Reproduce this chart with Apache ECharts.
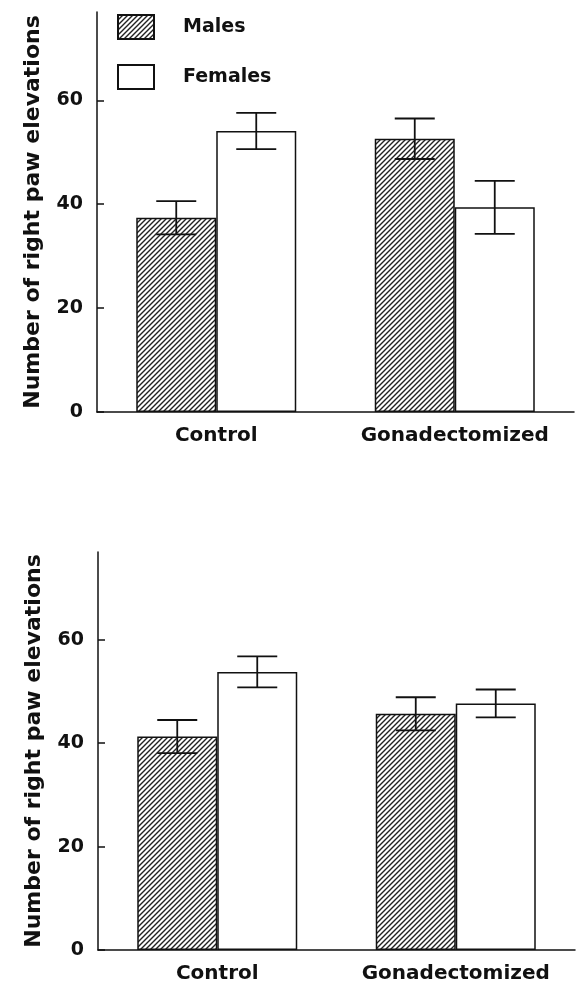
<!DOCTYPE html>
<html>
<head>
<meta charset="utf-8">
<script src="https://cdn.jsdelivr.net/npm/echarts@6/dist/echarts.min.js"></script>
<style>
html,body{margin:0;padding:0;background:#fff;}
#chart{width:581px;height:985px;}
</style>
</head>
<body>
<div id="chart"></div>
<script>
// ---- data ----
const categories = ['Control', 'Gonadectomized'];
const seriesNames = ['Males', 'Females'];
const yTicks = [0, 20, 40, 60];
const yTitle = 'Number of right paw elevations';

// Top panel
const topMales = [37.4, 52.6];
const topMalesErr = [3.2, 3.9];
const topFemales = [54.1, 39.4];
const topFemalesErr = [3.5, 5.1];

// Bottom panel
const botMales = [41.3, 45.7];
const botMalesErr = [3.2, 3.2];
const botFemales = [53.8, 47.7];
const botFemalesErr = [3.0, 2.7];

// ---- styles ----
const FONT = 'DejaVu Sans';
const INK = '#111';
const BAR_W = 80;
const Y_MAX = 77;

function hatchCanvas() {
  const s = 5;
  const c = document.createElement('canvas');
  c.width = s; c.height = s;
  const ctx = c.getContext('2d');
  ctx.fillStyle = '#fff';
  ctx.fillRect(0, 0, s, s);
  ctx.strokeStyle = '#222';
  ctx.lineWidth = 1.4;
  ctx.beginPath();
  ctx.moveTo(-1, s + 1); ctx.lineTo(s + 1, -1);
  ctx.moveTo(-1, 1); ctx.lineTo(1, -1);
  ctx.moveTo(s - 1, s + 1); ctx.lineTo(s + 1, s - 1);
  ctx.stroke();
  return c;
}
const hatch = { image: hatchCanvas(), repeat: 'repeat' };

function errData(means, errs) {
  return means.map((m, i) => [i, m - errs[i], m + errs[i]]);
}

function errSeries(idx, means, errs, sign) {
  return {
    type: 'custom',
    name: 'err' + idx + sign,
    xAxisIndex: idx, yAxisIndex: idx,
    z: 5,
    silent: true,
    encode: { x: 0, y: [1, 2] },
    data: errData(means, errs),
    renderItem: function (params, api) {
      const cat = api.value(0);
      const lo = api.coord([cat, api.value(1)]);
      const hi = api.coord([cat, api.value(2)]);
      const x = lo[0] + sign * BAR_W / 2;
      const half = BAR_W / 4;
      const st = { stroke: INK, lineWidth: 1.8 };
      return {
        type: 'group',
        children: [
          { type: 'line', shape: { x1: x, y1: lo[1], x2: x, y2: hi[1] }, style: st },
          { type: 'line', shape: { x1: x - half, y1: lo[1], x2: x + half, y2: lo[1] }, style: st },
          { type: 'line', shape: { x1: x - half, y1: hi[1], x2: x + half, y2: hi[1] }, style: st }
        ]
      };
    }
  };
}

function barSeries(idx, name, data, isMale) {
  return {
    type: 'bar',
    name: name,
    xAxisIndex: idx, yAxisIndex: idx,
    barWidth: BAR_W,
    barGap: '0%',
    data: data,
    itemStyle: {
      color: isMale ? hatch : '#fff',
      borderColor: INK,
      borderWidth: 1.5
    },
    emphasis: { disabled: true }
  };
}

function xAxis(idx) {
  return {
    type: 'category',
    gridIndex: idx,
    data: categories,
    axisLine: { lineStyle: { color: INK, width: 1.5 } },
    axisTick: { show: false },
    axisLabel: { interval: 0, hideOverlap: false, color: INK, fontFamily: FONT, fontSize: 20, fontWeight: 'bold', margin: 14 }
  };
}

function yAxis(idx) {
  return {
    type: 'value',
    gridIndex: idx,
    min: 0, max: Y_MAX,
    splitLine: { show: false },
    axisLine: { show: true, lineStyle: { color: INK, width: 1.5 } },
    axisTick: { show: true, inside: true, length: 7, lineStyle: { color: INK, width: 1.5 }, customValues: yTicks },
    axisLabel: { color: INK, fontFamily: FONT, fontSize: 19, fontWeight: 'bold', margin: 14, customValues: yTicks },
    name: yTitle,
    nameLocation: 'middle',
    nameRotate: 90,
    nameGap: 53,
    nameTextStyle: { color: INK, fontFamily: FONT, fontSize: 22, fontWeight: 'bold' }
  };
}

const chart = echarts.init(document.getElementById('chart'), null, { renderer: 'canvas' });
chart.setOption({
  backgroundColor: '#fff',
  animation: false,
  grid: [
    { left: 97, right: 7, top: 12, height: 400 },
    { left: 98, right: 6, top: 552, height: 398 }
  ],
  legend: {
    data: seriesNames,
    orient: 'vertical',
    left: 117, top: 14,
    padding: 0,
    icon: 'rect',
    itemWidth: 36, itemHeight: 24, itemGap: 24,
    selectedMode: false,
    textStyle: { color: INK, fontFamily: FONT, fontSize: 19, fontWeight: 'bold', padding: [0, 0, 0, 24] }
  },
  xAxis: [xAxis(0), xAxis(1)],
  yAxis: [yAxis(0), yAxis(1)],
  series: [
    barSeries(0, 'Males', topMales, true),
    barSeries(0, 'Females', topFemales, false),
    barSeries(1, 'Males', botMales, true),
    barSeries(1, 'Females', botFemales, false),
    errSeries(0, topMales, topMalesErr, -1),
    errSeries(0, topFemales, topFemalesErr, 1),
    errSeries(1, botMales, botMalesErr, -1),
    errSeries(1, botFemales, botFemalesErr, 1)
  ]
});
</script>
</body>
</html>
